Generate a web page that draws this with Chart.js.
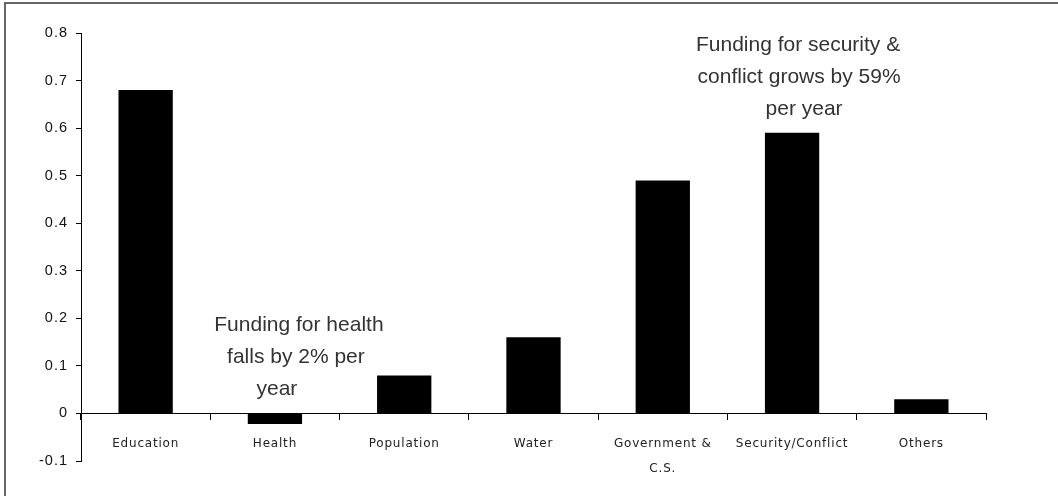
<!DOCTYPE html>
<html>
<head>
<meta charset="utf-8">
<script src="https://cdn.jsdelivr.net/npm/chart.js@4.4.1/dist/chart.umd.min.js"></script>
<style>
  html, body { margin: 0; padding: 0; background: #fff; overflow: hidden; }
  #wrap { position: relative; width: 1058px; height: 496px; }
  #frame { position: absolute; left: 4px; top: 2px; width: 1100px; height: 600px;
           border-left: 2px solid #666; border-top: 2px solid #666; }
  canvas { position: absolute; left: 0; top: 0; }
</style>
</head>
<body>
<div id="wrap">
  <div id="frame"></div>
  <canvas id="myChart" width="1058" height="496"></canvas>
</div>
<script>
// categories and growth rates
const categories = ['Education', 'Health', 'Population', 'Water', ['Government &', 'C.S.'], 'Security/Conflict', 'Others'];
const growth = [0.68, -0.022, 0.08, 0.16, 0.49, 0.59, 0.03];
const y_ticks = [-0.1, 0, 0.1, 0.2, 0.3, 0.4, 0.5, 0.6, 0.7, 0.8];

// callout texts: category index, value of first line, x shift of each line
const notes = [
  { cat: 1, value: 0.185, lines: ['Funding for health', 'falls by 2% per', 'year'], shift: [24, 21, 2] },
  { cat: 5, value: 0.775, lines: ['Funding for security &', 'conflict grows by 59%', 'per year'], shift: [6, 7, 12] }
];

var spacing = {
  id: 'spacing',
  beforeDraw: function(chart) { chart.ctx.letterSpacing = '1px'; },
  afterDatasetsDraw: function(chart) { chart.ctx.letterSpacing = '0.8px'; },
  afterDraw: function(chart) {
    var ctx = chart.ctx;
    ctx.save();
    ctx.letterSpacing = '0px';
    ctx.font = '21px "Liberation Sans", Arial, sans-serif';
    ctx.fillStyle = '#333';
    ctx.textAlign = 'center';
    ctx.textBaseline = 'middle';
    notes.forEach(function(n) {
      var x = chart.scales.x.getPixelForValue(n.cat);
      var y = chart.scales.y.getPixelForValue(n.value);
      n.lines.forEach(function(t, i) {
        ctx.fillText(t, x + n.shift[i], y + i * 32);
      });
    });
    ctx.restore();
  }
};

var config = {
  type: 'bar',
  data: {
    labels: categories,
    datasets: [{
      data: growth,
      backgroundColor: '#000',
      borderWidth: 0,
      barPercentage: 0.42,
      categoryPercentage: 1.0
    }]
  },
  options: {
    responsive: false,
    animation: false,
    devicePixelRatio: 1,
    layout: { padding: { top: 33, bottom: 35, left: 0, right: 72 } },
    plugins: { legend: { display: false }, tooltip: { enabled: false } },
    scales: {
      x: {
        position: { y: 0 },
        offset: true,
        grid: { offset: true, drawOnChartArea: false, drawTicks: true, tickLength: 6, color: '#000' },
        border: { display: true, color: '#000', width: 1 },
        ticks: {
          z: 1,
          color: '#222',
          padding: 12,
          maxRotation: 0,
          autoSkip: false,
          font: { family: '"DejaVu Sans", Verdana, sans-serif', size: 12, lineHeight: 2.1 }
        }
      },
      y: {
        min: -0.1,
        max: 0.8,
        afterFit: function(s) { s.width = 81; },
        afterBuildTicks: function(s) { s.ticks = y_ticks.map(function(v) { return { value: v }; }); },
        grid: { drawOnChartArea: false, drawTicks: true, tickLength: 5, color: '#000' },
        border: { display: true, color: '#000', width: 1 },
        ticks: {
          color: '#111',
          padding: 8,
          font: { family: '"Liberation Sans", Arial, sans-serif', size: 14.5 },
          callback: function(v) { return String(Math.round(v * 10) / 10); }
        }
      }
    }
  },
  plugins: [spacing]
};

var ctx = document.getElementById('myChart');
var myChart = new Chart(ctx, config);
</script>
</body>
</html>
